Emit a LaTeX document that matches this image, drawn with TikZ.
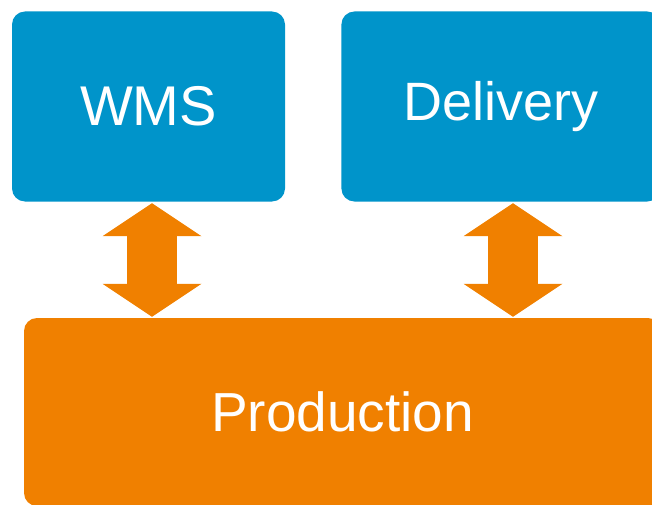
\documentclass[tikz,border=0pt]{standalone}
\usepackage{fontspec}
\setmainfont{Liberation Sans}
\usepackage{color}
\definecolor{myblue}{RGB}{0,148,202}
\definecolor{myorange}{RGB}{240,128,0}
\usepackage{tikz}
\usetikzlibrary{arrows.meta,positioning,calc}

\begin{document}
\begin{tikzpicture}[
  x=1pt,
  y=-1pt,
  mybox/.style={
    rectangle,
    rounded corners=13pt,
    fill=#1,
    text=white,
    inner sep=0pt
    },
  myarrow/.style={
    draw=myorange,
    line width=50pt,
    >={Triangle[length=33pt,width=99pt,line width=0pt]},
    <->,
    shorten <=1.5pt,
    shorten >=1pt
    }
]

\useasboundingbox (0,0) rectangle (652,505);

\node[mybox=myblue,minimum width=273pt,minimum height=190pt,
  font=\fontsize{56}{60}\selectfont]
  (wms) at (148.5,106.5) {WMS};
\node[mybox=myblue,minimum width=319pt,minimum height=190pt,
  font=\fontsize{54}{58}\selectfont,right=56pt of wms]
  (delivery) {Delivery};
\node[mybox=myorange,minimum width=637pt,minimum height=188pt,
  font=\fontsize{55}{60}\selectfont]
  (production) at (342.5,412) {Production};

\coordinate (a1) at (152,0);
\coordinate (a2) at (513,0);
\draw[myarrow] (a1 |- wms.south) -- (a1 |- production.north);
\draw[myarrow] (a2 |- delivery.south) -- (a2 |- production.north);

\end{tikzpicture}
\end{document}
